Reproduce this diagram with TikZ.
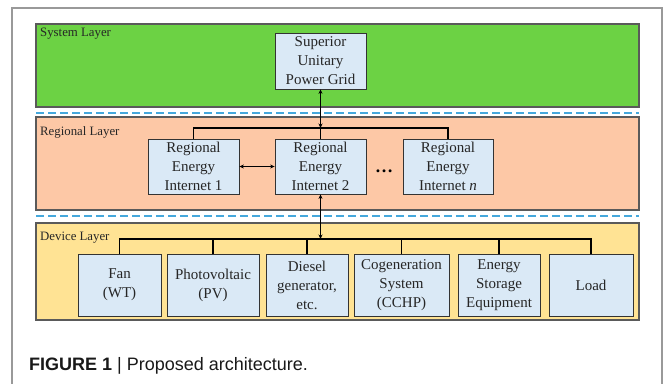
\documentclass[tikz,border=0pt]{standalone}
\usepackage{fontspec}
\setmainfont{Liberation Serif}
\newfontfamily\captionfont{Liberation Sans}
\usetikzlibrary{arrows.meta}

\definecolor{sysgreen}{HTML}{6CD244}
\definecolor{regpink}{HTML}{FDC8A6}
\definecolor{devyellow}{HTML}{FFE394}
\definecolor{unitblue}{HTML}{DAE9F6}
\definecolor{sepblue}{HTML}{45A8DC}
\definecolor{layergray}{HTML}{5A5A5A}

\begin{document}
\begin{tikzpicture}[x=1pt, y=-1pt,
    layer/.style={draw=layergray, line width=1.2pt, minimum width=603pt, inner sep=0pt},
    unit/.style={draw=black!80, line width=0.8pt, fill=unitblue, align=center, inner sep=0pt,
      font=\fontsize{15}{19}\selectfont, text=black!85},
    tag/.style={anchor=west, inner sep=0pt, font=\fontsize{12.8}{14}\selectfont, text=black!85},
    bus/.style={line width=1.5pt},
    tip/.style={line width=1.2pt, {Stealth[length=4.5pt,width=4pt]}-{Stealth[length=4.5pt,width=4pt]}},
    sepline/.style={draw=sepblue, line width=1.3pt, dash pattern=on 8pt off 4pt}]

  \useasboundingbox (0,0) rectangle (663,383);
  \draw[black!40, line width=1.3pt] (12,390) -- (12,8) -- (662,8) -- (662,390);

  % layers
  \node[layer, fill=sysgreen, minimum height=83pt] (syslayer) at (337.5,65.5) {};
  \node[layer, fill=regpink, minimum height=93pt] (reglayer) at (337.5,163.5) {};
  \node[layer, fill=devyellow, minimum height=97pt] (devlayer) at (337.5,271.5) {};

  \draw[sepline] (36,113) -- (639,113);
  \draw[sepline] (36,216) -- (639,216);

  \node[tag] (systag) at (40,34) {System Layer};
  \node[tag] (regtag) at (40,132) {Regional Layer};
  \node[tag] (devtag) at (40,238) {Device Layer};

  % system layer
  \node[unit, minimum width=91pt, minimum height=56pt] (sup) at (320.5,61) {Superior\\Unitary\\Power Grid};

  % regional layer
  \node[unit, minimum width=91pt, minimum height=55pt] (rei1) at (193.5,166.5) {Regional\\Energy\\Internet 1};
  \node[unit, minimum width=91pt, minimum height=55pt] (rei2) at (320.5,166.5) {Regional\\Energy\\Internet 2};
  \node[unit, minimum width=90pt, minimum height=55pt] (rein) at (448,166.5) {Regional\\Energy\\Internet \textit{n}};
  \node[inner sep=0pt, font=\fontsize{18}{20}\selectfont\bfseries] (dots) at (384,171) {\dots};

  % device layer
  \node[unit, minimum width=83pt, minimum height=62pt] (fan) at (119.5,285) {Fan\\(WT)};
  \node[unit, minimum width=92pt, minimum height=62pt] (pv) at (213,285) {Photovoltaic\\(PV)};
  \node[unit, minimum width=82pt, minimum height=62pt] (diesel) at (307,285) {Diesel\\generator,\\etc.};
  \node[unit, minimum width=95pt, minimum height=62pt] (cchp) at (401.5,285) {Cogeneration\\System\\(CCHP)};
  \node[unit, minimum width=82pt, minimum height=62pt] (store) at (499,285) {Energy\\Storage\\Equipment};
  \node[unit, minimum width=84pt, minimum height=62pt] (load) at (591,285) {Load};

  \coordinate (rbus) at (320.5,128);
  \coordinate (dbus) at (320.5,239);

  % connections
  \draw[tip] (sup.south) -- (rbus);
  \draw[bus] (rbus) -- (rei2.north);
  \draw[bus] (rei1.north) -- (rei1.north |- rbus) -- (rein.north |- rbus) -- (rein.north);
  \draw[tip] (rei1.east) -- (rei2.west);
  \draw[tip] (rei2.south) -- (dbus);
  \draw[bus] (fan.north) -- (fan.north |- dbus) -- (load.north |- dbus) -- (load.north);
  \foreach \n in {pv,diesel,cchp,store}
    \draw[bus] (\n.north) -- (\n.north |- dbus);

  \node[anchor=west, inner sep=0pt, font=\captionfont\fontsize{18}{20}\selectfont, text=black!90] (caption) at (29,366)
    {\textbf{FIGURE 1} | Proposed architecture.};
\end{tikzpicture}
\end{document}
